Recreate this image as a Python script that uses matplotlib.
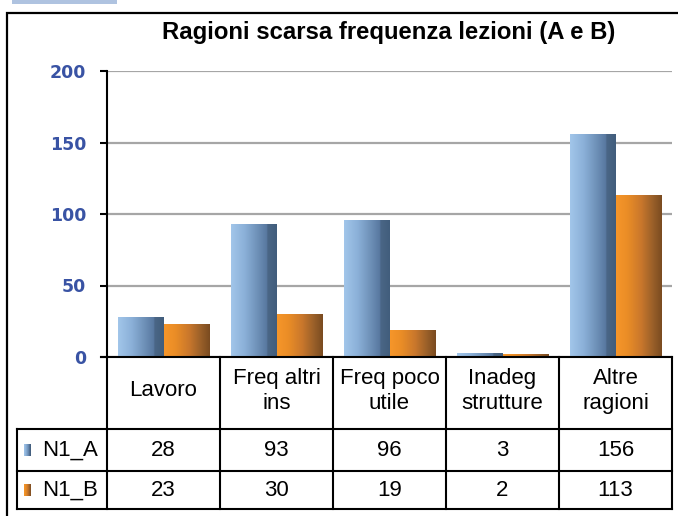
import numpy as np
import matplotlib.pyplot as plt
from matplotlib.colors import LinearSegmentedColormap
from matplotlib.patches import Rectangle
from matplotlib.lines import Line2D

# dati
categorie = ["Lavoro", "Freq altri\nins", "Freq poco\nutile", "Inadeg\nstrutture", "Altre\nragioni"]
serie = ["N1_A", "N1_B"]
valori_a = [28, 93, 96, 3, 156]
valori_b = [23, 30, 19, 2, 113]
yticks = [0, 50, 100, 150, 200]

W, H = 678, 516
fig = plt.figure(figsize=(W / 100, H / 100), dpi=100)


def fx(px):
    return px / W


def fy(py):
    return 1 - py / H


cm_blu = LinearSegmentedColormap.from_list(
    "blu", [(0, "#a2c6ea"), (0.3, "#8bb0d8"), (0.55, "#7194bb"),
            (0.78, "#5878a0"), (0.8, "#4a6686"), (1, "#415d7c")])
cm_ara = LinearSegmentedColormap.from_list(
    "ara", [(0, "#f6962a"), (0.25, "#ea8d26"), (0.55, "#c9772c"),
            (0.8, "#9a6029"), (1, "#7a4b20")])

# cornice esterna e rettangolo in alto
fig.patches.append(Rectangle((fx(7), fy(H + 10)), fx(W), fy(13) - fy(H + 10),
                             transform=fig.transFigure, fill=False,
                             edgecolor="black", linewidth=1.6))
fig.patches.append(Rectangle((fx(12), fy(4)), fx(105), fy(0) - fy(4),
                             transform=fig.transFigure, facecolor="#afc3e0",
                             edgecolor="none"))

fig.text(fx(389), fy(32), "Ragioni scarsa frequenza lezioni (A e B)",
         ha="center", va="center", fontsize=17.2, fontweight="bold",
         family="Liberation Sans")

x0, x1, ytop, y0 = 107, 672, 71, 357
ax = fig.add_axes([fx(x0), fy(y0), fx(x1 - x0), fy(ytop) - fy(y0)])
for s in ["top", "right", "bottom"]:
    ax.spines[s].set_visible(False)
ax.spines["left"].set_linewidth(1.5)
ax.yaxis.grid(True, color="#a6a6a6", linewidth=1.6)
ax.set_axisbelow(True)

w = 0.407
x = np.arange(len(categorie))
grad = np.linspace(0, 1, 256).reshape(1, -1)
for vals, off, cmap in [(valori_a, -w / 2, cm_blu), (valori_b, w / 2, cm_ara)]:
    bars = ax.bar(x + off, vals, width=w, color="none", edgecolor="none")
    for b in bars:
        im = ax.imshow(grad, cmap=cmap, aspect="auto", zorder=3,
                       extent=[b.get_x(), b.get_x() + b.get_width(), 0, b.get_height()])
        im.set_clip_path(b)

ax.set_xlim(-0.5, 4.5)
ax.set_ylim(0, 200)
ax.set_xticks([])
ax.set_yticks(yticks)
ax.set_yticklabels([str(v) for v in yticks], fontsize=12.5, fontweight="bold",
                   family="DejaVu Sans", color="#3953a4")
ax.tick_params(axis="y", length=5, width=1.5, pad=10)

# tabella dati
col = [107, 220, 333, 446, 559, 672]
r0, r1, r2, r3 = 357, 429, 471, 509
lw = 1.5


def riga(xa, ya, xb, yb):
    fig.lines.append(Line2D([fx(xa), fx(xb)], [fy(ya), fy(yb)],
                            transform=fig.transFigure, color="black",
                            linewidth=lw, solid_capstyle="projecting"))


riga(101, r0, 672, r0)
for c in col:
    riga(c, r0, c, r3)
riga(17, r1, 17, r3)
for r in [r1, r2, r3]:
    riga(17, r, 672, r)

fs = 16
for i, cat in enumerate(categorie):
    cx = (col[i] + col[i + 1]) / 2
    fig.text(fx(cx), fy((r0 + r1) / 2 - 2), cat, ha="center", va="center",
             fontsize=fs, family="Liberation Sans", linespacing=1.25)
    fig.text(fx(cx), fy((r1 + r2) / 2), str(valori_a[i]), ha="center",
             va="center", fontsize=fs, family="Liberation Sans")
    fig.text(fx(cx), fy((r2 + r3) / 2), str(valori_b[i]), ha="center",
             va="center", fontsize=fs, family="Liberation Sans")

for j, (nome, cmap) in enumerate([(serie[0], cm_blu), (serie[1], cm_ara)]):
    ya, yb = [(r1, r2), (r2, r3)][j]
    cy = (ya + yb) / 2
    sax = fig.add_axes([fx(24), fy(cy + 6), fx(7), fy(cy - 6) - fy(cy + 6)])
    sax.imshow(grad, cmap=cmap, aspect="auto")
    sax.axis("off")
    fig.text(fx(42), fy(cy), nome, ha="left", va="center", fontsize=fs,
             family="Liberation Sans")

fig.savefig("out.png", dpi=100)
